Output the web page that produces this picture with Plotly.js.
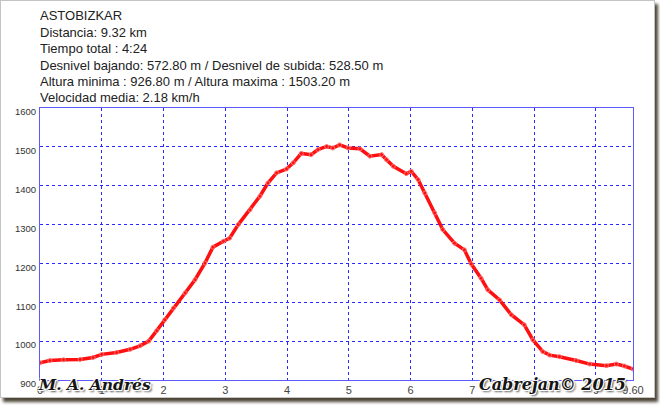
<!DOCTYPE html>
<html>
<head>
<meta charset="utf-8">
<script src="https://cdn.plot.ly/plotly-3.0.1.min.js"></script>
<style>
  html, body { margin: 0; padding: 0; background: #ffffff; }
  #wrap { position: relative; width: 660px; height: 411px; overflow: hidden; }
  #frame { position: absolute; left: 0; top: 0; width: 653px; height: 396px;
           background: #ffffff; border: 1px solid #c4c4c4;
           box-shadow: 3px 4px 3px #4d4536; }
  #chart { position: absolute; left: 0; top: 0; width: 660px; height: 411px; }
</style>
</head>
<body>
<div id="wrap">
  <div id="frame"></div>
  <div id="chart"></div>
</div>
<script>
const distanceKm = [0.00, 0.16, 0.38, 0.65, 0.86, 1.00, 1.24, 1.46, 1.62, 1.76,
  1.89, 2.02, 2.16, 2.35, 2.51, 2.67, 2.80, 2.97, 3.07, 3.21,
  3.40, 3.56, 3.69, 3.83, 3.99, 4.10, 4.23, 4.39, 4.50, 4.64,
  4.74, 4.85, 4.99, 5.18, 5.34, 5.53, 5.61, 5.72, 5.93, 6.01,
  6.12, 6.23, 6.39, 6.52, 6.71, 6.87, 6.98, 7.14, 7.25, 7.44,
  7.63, 7.84, 7.98, 8.14, 8.25, 8.41, 8.68, 8.90, 9.17, 9.33,
  9.46, 9.60];
const elevationM = [944, 950, 952, 953, 958, 966, 971, 979, 988, 1000,
  1027, 1055, 1085, 1124, 1158, 1201, 1242, 1257, 1265, 1300,
  1338, 1373, 1407, 1433, 1443, 1459, 1483, 1480, 1493, 1501,
  1497, 1505, 1497, 1495, 1476, 1480, 1467, 1450, 1431, 1437,
  1416, 1381, 1330, 1287, 1252, 1235, 1199, 1162, 1132, 1106,
  1068, 1042, 1003, 973, 964, 960, 950, 941, 937, 941,
  936, 928];
const xTickVals = [0, 1, 2, 3, 4, 5, 6, 7, 8, 9, 9.6];
const xTickText = ["0", "1", "2", "3", "4", "5", "6", "7", "8", "9", "9.60"];
const yTickVals = [900, 1000, 1100, 1200, 1300, 1400, 1500, 1600];
const infoLines = [
  "ASTOBIZKAR",
  "Distancia: 9.32 km",
  "Tiempo total : 4:24",
  "Desnivel bajando: 572.80 m / Desnivel de subida: 528.50 m",
  "Altura minima : 926.80 m / Altura maxima : 1503.20 m",
  "Velocidad media: 2.18 km/h"
];
const watermarkLeft = "M. A. Andrés";
const watermarkRight = "Cabrejan© 2015";

// ---- layout geometry ----
const W = 660, H = 411;
const M = { l: 40, r: 27, t: 108, b: 31 };
const plotH = H - M.t - M.b;
const plotW = W - M.l - M.r;
function py(ypx) { return (H - M.b - ypx) / plotH; }
function px(xpx) { return (xpx - M.l) / plotW; }

const infoY = [15.5, 32.8, 48.7, 65.2, 81.2, 97.8];
const annotations = infoLines.map((t, i) => ({
  text: t, xref: 'paper', yref: 'paper', x: px(38), y: py(infoY[i]),
  xanchor: 'left', yanchor: 'middle', showarrow: false,
  font: { family: 'Arial, Liberation Sans, sans-serif', size: 13, color: '#222222' }
}));
const wmFont = {
  family: 'DejaVu Serif, serif', size: 15.5, color: '#151515',
  style: 'italic', weight: 'bold',
  shadow: '1px 1px 0 #ffffff, -1px -1px 0 #ffffff, 1px -1px 0 #ffffff, -1px 1px 0 #ffffff, 2px 2px 2px #555555'
};
annotations.push({
  text: watermarkLeft, xref: 'paper', yref: 'paper', x: px(36), y: py(384),
  xanchor: 'left', yanchor: 'middle', showarrow: false, font: wmFont
});
annotations.push({
  text: watermarkRight, xref: 'paper', yref: 'paper', x: px(477), y: py(384),
  xanchor: 'left', yanchor: 'middle', showarrow: false, font: Object.assign({}, wmFont, { size: 16 })
});

const trace = {
  x: distanceKm, y: elevationM, type: 'scatter', mode: 'lines+markers',
  line: { color: '#ff1010', width: 3.5 },
  marker: { symbol: 'circle-open', size: 4, color: '#ff7070', line: { width: 1 } },
  hoverinfo: 'skip'
};

const axisCommon = {
  showline: true, mirror: true, linecolor: '#5a5aff', linewidth: 1,
  showgrid: true, gridcolor: '#2a2aff', gridwidth: 1, griddash: 'dot',
  zeroline: false, ticks: '', fixedrange: true
};

const layout = {
  width: W, height: H,
  margin: M,
  paper_bgcolor: 'rgba(0,0,0,0)',
  plot_bgcolor: '#ffffff',
  showlegend: false,
  xaxis: Object.assign({}, axisCommon, {
    range: [0, 9.6], tickmode: 'array', tickvals: xTickVals, ticktext: xTickText,
    tickfont: { family: 'Arial, Liberation Sans, sans-serif', size: 11, color: '#444444' },
    ticklabelstandoff: 0
  }),
  yaxis: Object.assign({}, axisCommon, {
    range: [900, 1600], tickmode: 'array', tickvals: yTickVals,
    tickfont: { family: 'Arial, Liberation Sans, sans-serif', size: 9.5, color: '#333333' },
    ticklabelshift: 4, ticklabelstandoff: 1
  }),
  annotations: annotations
};

Plotly.newPlot('chart', [trace], layout, { displayModeBar: false, staticPlot: true });
</script>
</body>
</html>
